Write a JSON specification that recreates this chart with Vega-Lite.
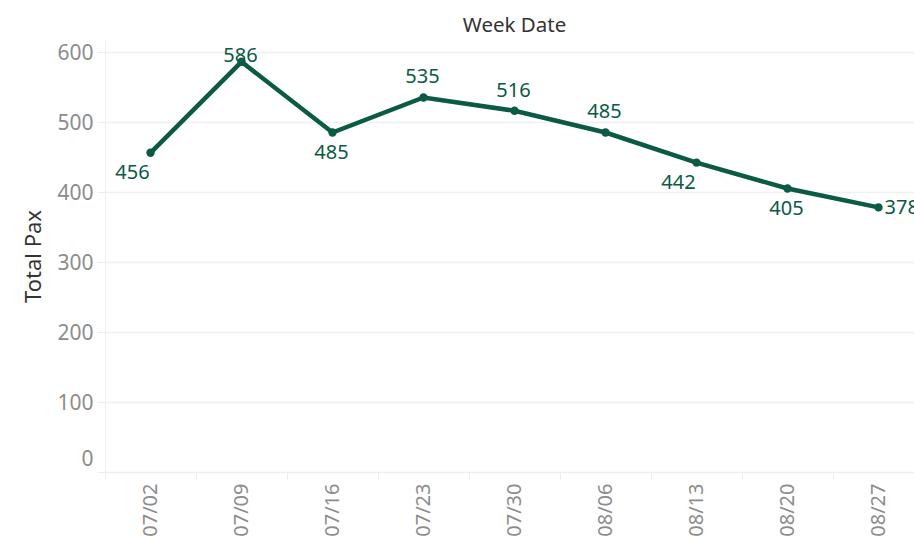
{
  "$schema": "https://vega.github.io/schema/vega-lite/v6.json",
  "width": 819,
  "height": 432,
  "autosize": {"type": "none"},
  "padding": {"left": 105, "top": 40, "right": -10, "bottom": 66},
  "background": "white",
  "title": {
    "text": "Week Date",
    "frame": "group",
    "anchor": "middle",
    "orient": "top",
    "baseline": "alphabetic",
    "offset": 9,
    "dy": 21,
    "font": "Noto Sans",
    "fontSize": 20.5,
    "fontWeight": "normal",
    "color": "#333333"
  },
  "config": {
    "view": {"stroke": null},
    "font": "Noto Sans"
  },
  "data": {
    "values": [
      {"week": "07/02", "pax": 456},
      {"week": "07/09", "pax": 586},
      {"week": "07/16", "pax": 485},
      {"week": "07/23", "pax": 535},
      {"week": "07/30", "pax": 516},
      {"week": "08/06", "pax": 485},
      {"week": "08/13", "pax": 442},
      {"week": "08/20", "pax": 405},
      {"week": "08/27", "pax": 378}
    ]
  },
  "encoding": {
    "x": {
      "field": "week",
      "type": "ordinal",
      "sort": null,
      "scale": {"paddingInner": 0, "paddingOuter": 0},
      "axis": {
        "title": null,
        "labelAngle": 270,
        "labelFontSize": 20,
        "labelColor": "#8c8c8c",
        "labelPadding": 3,
        "tickBand": "extent",
        "tickSize": 8,
        "tickColor": "#eeeeee",
        "domainColor": "#eeeeee",
        "grid": false
      }
    },
    "y": {
      "field": "pax",
      "type": "quantitative",
      "scale": {"domain": [0, 617.14], "nice": false, "zero": true},
      "axis": {
        "title": "Total Pax",
        "titleFontSize": 22,
        "titleFontWeight": "normal",
        "titleColor": "#333333",
        "titlePadding": 11,
        "values": [0, 100, 200, 300, 400, 500, 600],
        "labelFontSize": 21,
        "labelColor": "#8c8c8c",
        "labelPadding": 4,
        "labelOffset": {"condition": {"test": "datum.value === 0", "value": -13}, "value": 2},
        "tickSize": 8,
        "tickColor": "#eeeeee",
        "domainColor": "#eeeeee",
        "gridColor": "#f0f0f0",
        "gridWidth": 1.5
      }
    }
  },
  "layer": [
    {"mark": {"type": "line", "color": "#0a5a44", "strokeWidth": 4.5}},
    {"mark": {"type": "point", "filled": true, "opacity": 1, "color": "#0a5a44", "size": 70}},
    {
      "transform": [{"filter": {"field": "week", "oneOf": ["07/02", "08/13"]}}],
      "mark": {"type": "text", "color": "#0a5a44", "fontSize": 20, "dx": -18, "dy": 20, "align": "center", "baseline": "middle"},
      "encoding": {"text": {"field": "pax"}}
    },
    {
      "transform": [{"filter": {"field": "week", "oneOf": ["07/16", "08/20"]}}],
      "mark": {"type": "text", "color": "#0a5a44", "fontSize": 20, "dx": -1, "dy": 21, "align": "center", "baseline": "middle"},
      "encoding": {"text": {"field": "pax"}}
    },
    {
      "transform": [{"filter": {"field": "week", "oneOf": ["07/23", "07/30", "08/06"]}}],
      "mark": {"type": "text", "color": "#0a5a44", "fontSize": 20, "dx": -1, "dy": -20, "align": "center", "baseline": "middle"},
      "encoding": {"text": {"field": "pax"}}
    },
    {
      "transform": [{"filter": {"field": "week", "oneOf": ["07/09"]}}],
      "mark": {"type": "text", "color": "#0a5a44", "fontSize": 20, "dx": -1, "dy": -6, "align": "center", "baseline": "middle"},
      "encoding": {"text": {"field": "pax"}}
    },
    {
      "transform": [{"filter": {"field": "week", "oneOf": ["08/27"]}}],
      "mark": {"type": "text", "color": "#0a5a44", "fontSize": 20, "dx": 6, "dy": 1, "align": "left", "baseline": "middle"},
      "encoding": {"text": {"field": "pax"}}
    }
  ]
}
